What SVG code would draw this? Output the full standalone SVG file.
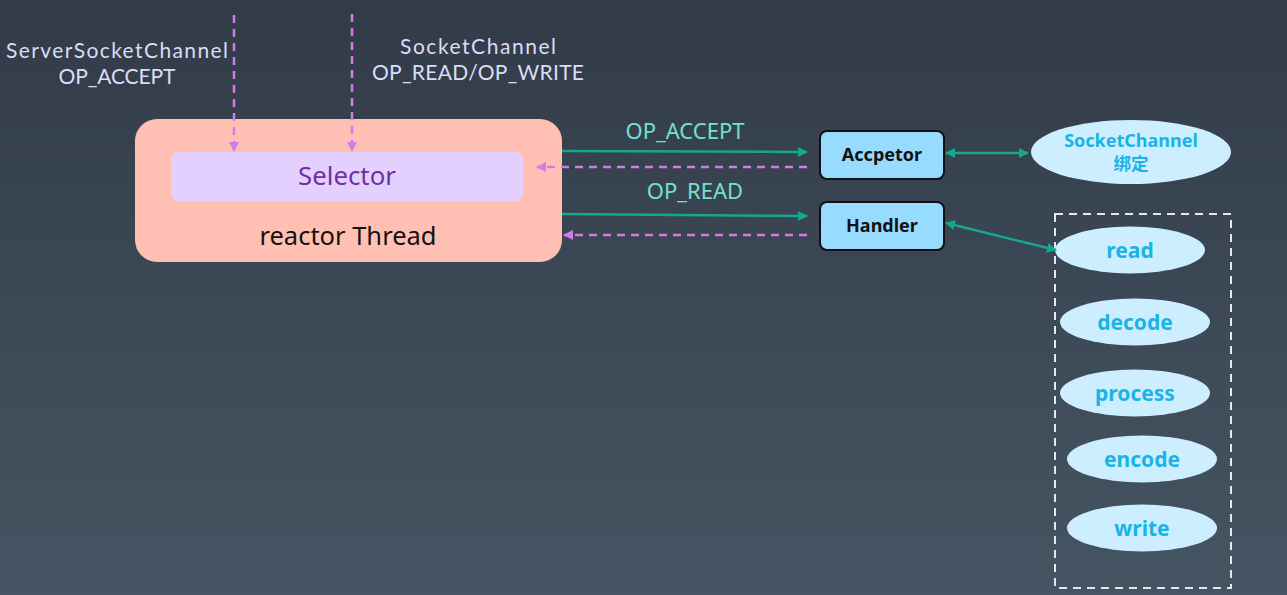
<svg xmlns="http://www.w3.org/2000/svg" width="1287" height="595" viewBox="0 0 1287 595">
<defs>
<linearGradient id="bg" x1="0" y1="0" x2="0" y2="1">
<stop offset="0" stop-color="#323b48"/>
<stop offset="1" stop-color="#465563"/>
</linearGradient>
<marker id="ag" viewBox="0 0 10 10" refX="9" refY="5" markerWidth="4" markerHeight="4" orient="auto-start-reverse"><path d="M0,0 L10,5 L0,10 z" fill="#14a88e"/></marker>
<marker id="ap" viewBox="0 0 10 10" refX="9" refY="5" markerWidth="4" markerHeight="4" orient="auto-start-reverse"><path d="M0,0 L10,5 L0,10 z" fill="#d07ce6"/></marker>
<style>
text{font-family:"Noto Sans","Open Sans","Noto Sans CJK SC",sans-serif;text-anchor:middle}
.lab{fill:#dcdcf6;font-size:21px;font-family:Lato,"Noto Sans",sans-serif}
.op{fill:#6fe3cb;font-size:22px}
.g{stroke:#14a88e;stroke-width:2.5;fill:none}
.p{stroke:#d07ce6;stroke-width:2.5;fill:none;stroke-dasharray:8 6}
.box{fill:#97dbff;stroke:#111;stroke-width:2}
.bt{font-size:18px;font-weight:bold;fill:#111}
.el{fill:#cdeeff}
.et{font-size:21px;font-weight:bold;fill:#1ab3e8}
</style>
</defs>
<rect width="1287" height="595" fill="url(#bg)"/>
<g id="labels">
<text class="lab" x="117" y="58" textLength="222" lengthAdjust="spacing">ServerSocketChannel</text>
<text class="lab" x="117" y="84" textLength="117" lengthAdjust="spacing">OP_ACCEPT</text>
<text class="lab" x="478" y="54" textLength="156" lengthAdjust="spacing">SocketChannel</text>
<text class="lab" x="478" y="80" textLength="212" lengthAdjust="spacing">OP_READ/OP_WRITE</text>
<text class="op" x="685" y="139">OP_ACCEPT</text>
<text class="op" x="695" y="199">OP_READ</text>
</g>
<g id="reactor">
<rect x="135" y="119" width="427" height="143" rx="22" fill="#ffc0b3"/>
<text x="348" y="245" font-size="25.5" fill="#111">reactor Thread</text>
</g>
<g id="selector">
<rect x="171" y="152" width="352" height="49" rx="8" fill="#e4d0ff"/>
<text x="347" y="185" font-size="25.8" fill="#7030a0">Selector</text>
</g>
<g id="accpetor">
<rect class="box" x="820" y="131" width="124" height="48" rx="7"/>
<text class="bt" x="882" y="161">Accpetor</text>
</g>
<g id="handler">
<rect class="box" x="820" y="202" width="124" height="48" rx="7"/>
<text class="bt" x="882" y="232">Handler</text>
</g>
<g id="socketchannel">
<ellipse class="el" cx="1131" cy="152" rx="100" ry="32"/>
<text x="1131" y="147" font-size="18" font-weight="bold" fill="#1ab3e8">SocketChannel</text>
<text x="1131" y="170" font-size="17.5" font-weight="bold" fill="#1ab3e8">绑定</text>
</g>
<g id="pipeline">
<rect x="1055" y="214" width="176" height="374" fill="none" stroke="#e8e8e8" stroke-width="2" stroke-dasharray="8 6"/>
</g>
<g id="read"><ellipse class="el" cx="1130" cy="250" rx="75" ry="23.5"/><text class="et" x="1130" y="258">read</text></g>
<g id="decode"><ellipse class="el" cx="1135" cy="322" rx="75" ry="23.5"/><text class="et" x="1135" y="330">decode</text></g>
<g id="process"><ellipse class="el" cx="1135" cy="393" rx="75" ry="23.5"/><text class="et" x="1135" y="401">process</text></g>
<g id="encode"><ellipse class="el" cx="1142" cy="459" rx="75" ry="23.5"/><text class="et" x="1142" y="467">encode</text></g>
<g id="write"><ellipse class="el" cx="1142" cy="528" rx="75" ry="23.5"/><text class="et" x="1142" y="536">write</text></g>
<g id="connectors">
<line class="p" x1="234" y1="15" x2="234" y2="151" marker-end="url(#ap)" stroke-width="2"/>
<line class="p" x1="352" y1="14" x2="352" y2="151" marker-end="url(#ap)" stroke-width="2"/>
<line class="g" x1="562" y1="151" x2="807" y2="152" marker-end="url(#ag)"/>
<line class="p" x1="807" y1="167" x2="537" y2="167" marker-end="url(#ap)"/>
<line class="g" x1="562" y1="214" x2="807" y2="216" marker-end="url(#ag)"/>
<line class="p" x1="807" y1="235" x2="564" y2="235" marker-end="url(#ap)"/>
<line class="g" x1="946" y1="153" x2="1028" y2="153" marker-start="url(#ag)" marker-end="url(#ag)" stroke-width="2"/>
<line class="g" x1="946" y1="223" x2="1056" y2="250" marker-start="url(#ag)" marker-end="url(#ag)" stroke-width="2"/>
</g>
</svg>
